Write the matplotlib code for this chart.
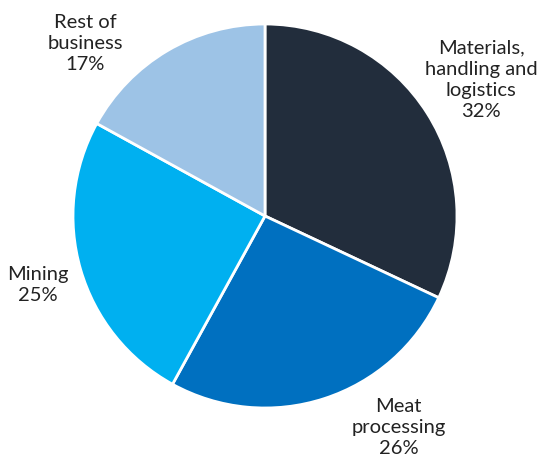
import numpy as np
import matplotlib.pyplot as plt

labels = ['Materials,\nhandling and\nlogistics\n32%', 'Meat\nprocessing\n26%', 'Mining\n25%', 'Rest of\nbusiness\n17%']
shares = [32, 26, 25, 17]
colors = ['#222d3c', '#0070c0', '#00b0f0', '#9dc3e6']
# label positions in pie radius units, relative to the centre
label_xy = [(1.125, 0.71), (0.695, -1.10), (-1.185, -0.36), (-0.935, 0.90)]

fig = plt.figure(figsize=(5.41, 4.57), dpi=100)
ax = fig.add_axes([73 / 541, 49 / 457, 384 / 541, 384 / 457])
wedges, texts = ax.pie(shares, colors=colors, startangle=90, counterclock=False,
                       radius=1, wedgeprops=dict(edgecolor='white', linewidth=2))
for (x, y), lab in zip(label_xy, labels):
    ax.text(x, y, lab, ha='center', va='center', fontsize=14.5, family=['Lato', 'DejaVu Sans'],
            color='#222222', linespacing=1.28, clip_on=False)
ax.set_xlim(-1, 1)
ax.set_ylim(-1, 1)
ax.set_aspect('auto')
ax.axis('off')
fig.savefig('out.png', dpi=100)
